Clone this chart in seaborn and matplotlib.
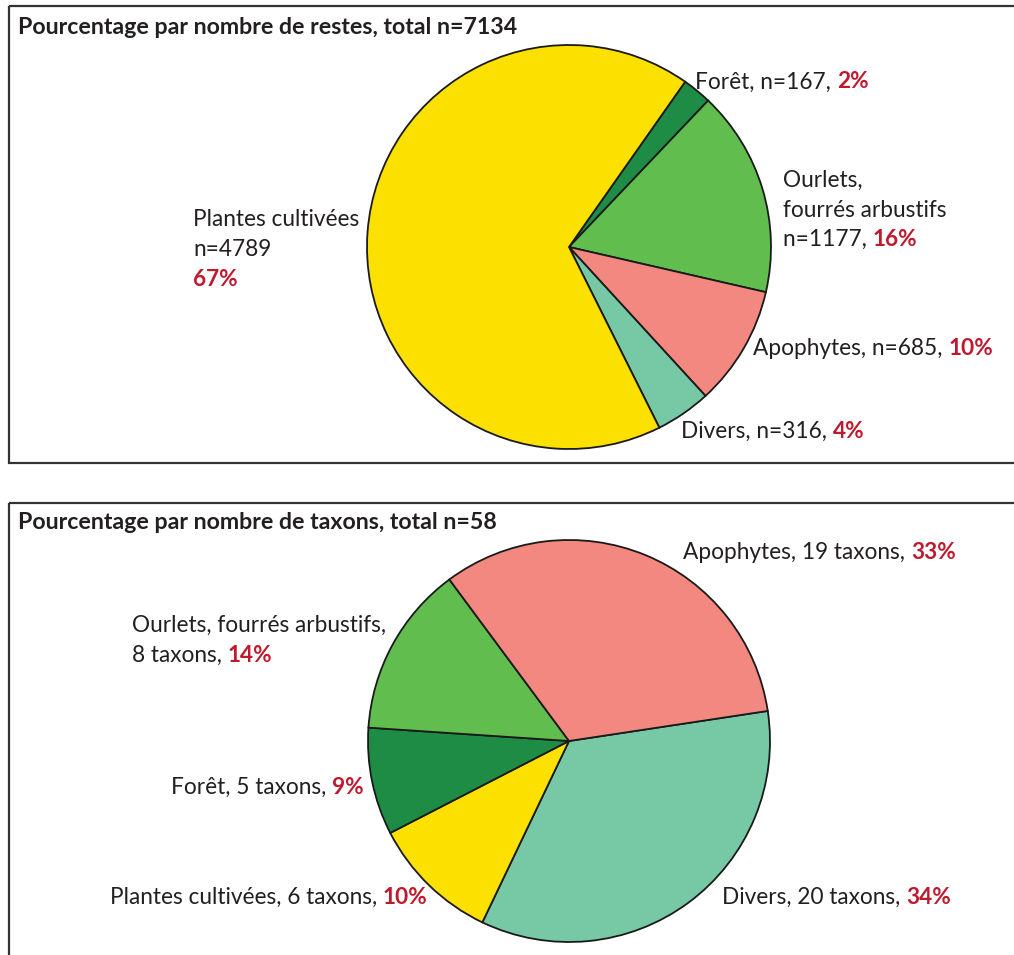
import matplotlib
matplotlib.use("Agg")
import matplotlib.pyplot as plt
from matplotlib.patches import Rectangle
import seaborn as sns

# Remains counts (top chart), listed clockwise from the Forêt wedge
restes_groups = ["Forêt", "Ourlets, fourrés arbustifs", "Apophytes", "Divers", "Plantes cultivées"]
restes_counts = [167, 1177, 685, 316, 4789]
restes_pct = [2, 16, 10, 4, 67]

# Taxon counts (bottom chart), listed clockwise from the Divers wedge
taxons_groups = ["Divers", "Plantes cultivées", "Forêt", "Ourlets, fourrés arbustifs", "Apophytes"]
taxons_counts = [20, 6, 5, 8, 19]
taxons_pct = [34, 10, 9, 14, 33]

group_colors = {
    "Plantes cultivées": "#FCE000",
    "Forêt": "#1E8C45",
    "Ourlets, fourrés arbustifs": "#62BD4F",
    "Apophytes": "#F28880",
    "Divers": "#77C9A5",
}

sns.set_theme(style="white")
plt.rcParams["font.family"] = ["Lato", "DejaVu Sans"]

TXT = "#231F20"
RED = "#C0182C"
FS = 16.3
TFS = 16.7

W, H = 1014, 955
fig = plt.figure(figsize=(W / 100, H / 100), dpi=100)
ax = fig.add_axes([0, 0, 1, 1])

# Panel frames
for y0, y1 in [(6, 463), (503, 975)]:
    ax.add_patch(Rectangle((9, y0), 1030, y1 - y0, fill=False,
                           edgecolor="#333333", linewidth=1.6, clip_on=False))

wedge_kw = dict(edgecolor="#1a1a1a", linewidth=1.3)

# The y axis is inverted, so a counter-clockwise sweep in data space reads clockwise on screen
ax.pie(restes_counts, colors=[group_colors[g] for g in restes_groups],
       center=(569, 247), radius=202, startangle=-54.9, counterclock=True,
       wedgeprops=wedge_kw, frame=True)
ax.pie(taxons_counts, colors=[group_colors[g] for g in taxons_groups],
       center=(569, 741), radius=201, startangle=-8.6, counterclock=True,
       wedgeprops=wedge_kw, frame=True)
ax.set_xlim(0, W)
ax.set_ylim(H, 0)
ax.set_aspect("auto")
ax.axis("off")

ax.text(18, 28, "Pourcentage par nombre de restes, total n=7134", fontsize=TFS,
        fontweight="bold", color=TXT, va="center", ha="left")
ax.text(18, 522, "Pourcentage par nombre de taxons, total n=58", fontsize=TFS,
        fontweight="bold", color=TXT, va="center", ha="left")


def label(x, y, plain, pct=None):
    t = ax.text(x, y, plain, fontsize=FS, color=TXT, va="center", ha="left")
    if pct is not None:
        ax.annotate(f"{pct}%", xy=(1, 0.5), xycoords=t, va="center", ha="left",
                    fontsize=FS, color=RED, fontweight="bold")
    return t


r = dict(zip(restes_groups, zip(restes_counts, restes_pct)))
label(695, 82, f"Forêt, n={r['Forêt'][0]}, ", r["Forêt"][1])
label(783, 180, "Ourlets,")
label(783, 210, "fourrés arbustifs")
label(783, 239, f"n={r['Ourlets, fourrés arbustifs'][0]}, ", r["Ourlets, fourrés arbustifs"][1])
label(753, 348, f"Apophytes, n={r['Apophytes'][0]}, ", r["Apophytes"][1])
label(681, 431, f"Divers, n={r['Divers'][0]}, ", r["Divers"][1])
label(193, 219, "Plantes cultivées")
label(193, 249, f"n={r['Plantes cultivées'][0]}")
ax.text(193, 279, f"{r['Plantes cultivées'][1]}%", fontsize=FS, color=RED,
        fontweight="bold", va="center", ha="left")

t = dict(zip(taxons_groups, zip(taxons_counts, taxons_pct)))
label(683, 552, f"Apophytes, {t['Apophytes'][0]} taxons, ", t["Apophytes"][1])
label(132, 625, "Ourlets, fourrés arbustifs,")
label(132, 655, f"{t['Ourlets, fourrés arbustifs'][0]} taxons, ", t["Ourlets, fourrés arbustifs"][1])
label(171, 787, f"Forêt, {t['Forêt'][0]} taxons, ", t["Forêt"][1])
label(110, 897, f"Plantes cultivées, {t['Plantes cultivées'][0]} taxons, ", t["Plantes cultivées"][1])
label(722, 897, f"Divers, {t['Divers'][0]} taxons, ", t["Divers"][1])

fig.savefig("out.png", dpi=100)
